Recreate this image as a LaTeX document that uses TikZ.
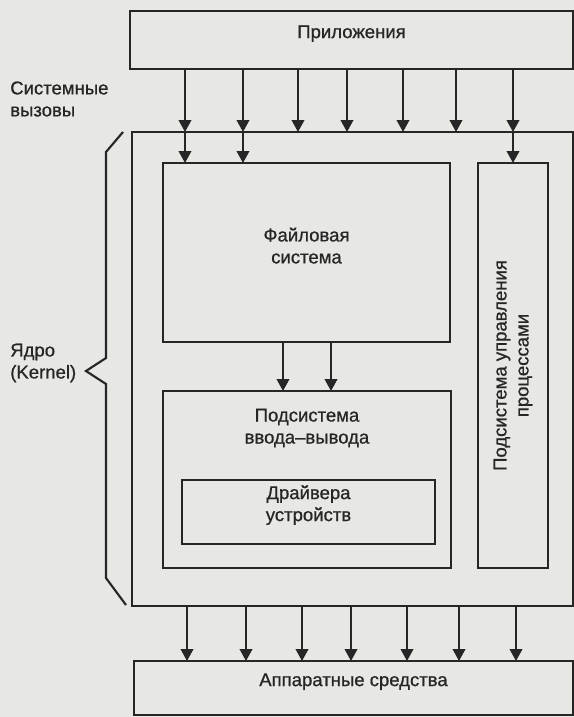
\documentclass[tikz,border=0pt]{standalone}
\usepackage{fontspec}
\setmainfont{Liberation Sans}
\newfontfamily\medfont[Ligatures=TeX, FakeBold=0.8]{Liberation Sans}
\usetikzlibrary{arrows.meta,fit}

\definecolor{paper}{RGB}{231,231,228}
\definecolor{ink}{RGB}{38,38,38}

\tikzset{
  box/.style={draw=ink, line width=2pt, inner sep=0pt, outer sep=0pt,
    align=center, text=ink, font=\medfont\fontsize{13.9}{16.5}\selectfont},
  lbl/.style={text=ink, align=center, inner sep=0pt,
    font=\medfont\fontsize{13.9}{16.5}\selectfont},
  arr/.style={draw=ink, line width=1.3pt, -{Triangle[width=9.5pt,length=9pt]}},
}

\begin{document}
\begin{tikzpicture}[x=0.75pt, y=-0.75pt, line join=miter]
  \fill[paper] (0,0) rectangle (574,717);
  \useasboundingbox (0,0) rectangle (574,717);

  % boxes
  \node[box, fit={(130,11) (573,69)}] (apps) {Приложения};
  \node[box, fit={(132,132) (573,606)}] (kernel) {};
  \node[box, fit={(163,163) (450,342)}] (fs) {Файловая\\система};
  \node[box, fit={(163,391) (451,568)}] (io) {};
  \node[lbl] (iotext) at (307,428) {Подсистема\\ввода–вывода};
  \node[box, fit={(182,480) (435,544)}] (drv) {Драйвера\\устройств};
  \node[box, fit={(478,163) (548,568)}] (proc) {};
  \node[lbl, rotate=90] (proctext) at (proc.center) {Подсистема управления\\процессами};
  \node[box, fit={(134,661) (573,715)}] (hw) {Аппаратные средства};

  % labels on the left
  \node[lbl, anchor=west, align=left] (calls) at (10,99) {Системные\\вызовы};
  \node[lbl, anchor=west, align=left] (core) at (10,363) {Ядро\\(Kernel)};

  % brace of the kernel
  \draw[ink, line width=1.6pt] (123,132) -- (106,152) -- (106,358) -- (86,371)
    -- (106,384) -- (106,578) -- (126,605);

  % system calls
  \foreach \x [count=\i] in {185,243,298,347,403,456,513}
    \coordinate (sc\i) at (\x,0);
  \foreach \i in {1,...,7}
    \draw[arr] (apps.south -| sc\i) -- (kernel.north -| sc\i);
  \foreach \i in {1,2}
    \draw[arr] (kernel.north -| sc\i) -- (fs.north -| sc\i);
  \draw[arr] (kernel.north -| sc7) -- (proc.north -| sc7);

  % file system to i/o
  \coordinate (fio1) at (283,0);
  \coordinate (fio2) at (331,0);
  \draw[arr] (fs.south -| fio1) -- (io.north -| fio1);
  \draw[arr] (fs.south -| fio2) -- (io.north -| fio2);

  % kernel to hardware
  \foreach \x [count=\i] in {187,246,302,351,407,459,516} {
    \coordinate (hw\i) at (\x,0);
    \draw[arr] (kernel.south -| hw\i) -- (hw.north -| hw\i);
  }
\end{tikzpicture}
\end{document}
